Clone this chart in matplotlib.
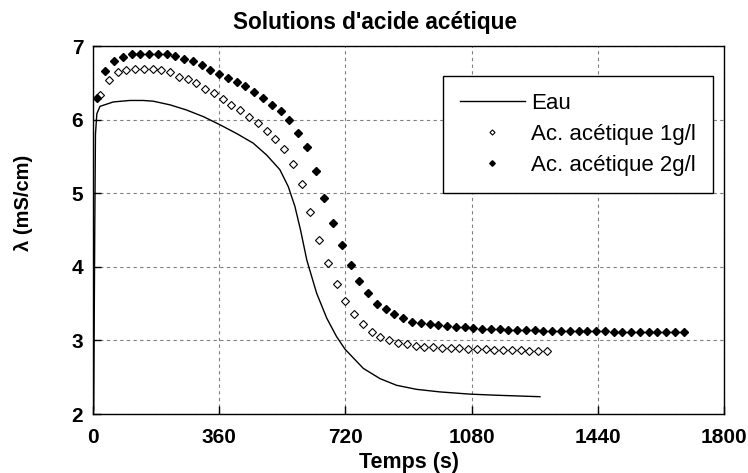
import numpy as np
import matplotlib
matplotlib.use("Agg")
import matplotlib.pyplot as plt

plt.rcParams['font.family'] = ['Liberation Sans', 'DejaVu Sans']

# Eau (trace continue)
t_eau = [2, 5, 7, 11, 20, 58, 105, 143, 172, 220, 267, 315, 362, 410, 457, 495,
         533, 557, 576, 592, 610, 638, 667, 695, 719, 771, 819, 866, 923, 990,
         1075, 1151, 1275]
eau = [2.05, 4.5, 5.8, 6.08, 6.18, 6.24, 6.26, 6.26, 6.25, 6.20, 6.13, 6.04,
       5.93, 5.81, 5.68, 5.52, 5.32, 5.09, 4.82, 4.50, 4.09, 3.64, 3.30, 3.05,
       2.88, 2.62, 2.48, 2.39, 2.335, 2.30, 2.27, 2.255, 2.235]

# Ac. acetique 1g/l (mesures toutes les 25 s)
t_ac1 = np.arange(20, 1300, 25)
ac1 = [6.33, 6.54, 6.64, 6.67, 6.69, 6.69, 6.69, 6.67, 6.64, 6.58, 6.55, 6.50,
       6.42, 6.36, 6.28, 6.20, 6.13, 6.04, 5.96, 5.85, 5.74, 5.60, 5.39, 5.12,
       4.74, 4.36, 4.05, 3.77, 3.54, 3.355, 3.22, 3.12, 3.05, 3.005, 2.97, 2.95,
       2.93, 2.915, 2.91, 2.90, 2.895, 2.89, 2.885, 2.88, 2.88, 2.875, 2.87,
       2.87, 2.865, 2.86, 2.855, 2.855]

# Ac. acetique 2g/l
t_ac2 = np.arange(10, 1700, 25)
ac2 = [6.29, 6.66, 6.79, 6.855, 6.89, 6.89, 6.89, 6.89, 6.89, 6.87, 6.83, 6.79,
       6.74, 6.67, 6.62, 6.56, 6.51, 6.45, 6.375, 6.29, 6.20, 6.12, 5.99, 5.82,
       5.63, 5.30, 4.94, 4.59, 4.29, 4.03, 3.81, 3.64, 3.50, 3.42, 3.355, 3.30,
       3.255, 3.23, 3.22, 3.205, 3.196, 3.187, 3.18, 3.175, 3.16, 3.16, 3.155,
       3.14, 3.14, 3.14, 3.14, 3.13, 3.13, 3.13, 3.13, 3.13, 3.125, 3.125, 3.125,
       3.12, 3.12, 3.12, 3.12, 3.12, 3.115, 3.115, 3.115, 3.115]

xticks = [0, 360, 720, 1080, 1440, 1800]
yticks = [2, 3, 4, 5, 6, 7]

fig = plt.figure(figsize=(7.48, 4.73), dpi=100)
ax = fig.add_axes([93 / 748, 59 / 473, 631 / 748, 368 / 473])

ax.plot(t_eau, eau, color='black', lw=1.0, label='Eau')
ax.plot(t_ac1, ac1, ls='none', marker='D', ms=3.7, mfc='white', mec='black',
        mew=0.8, label='Ac. acétique 1g/l')
ax.plot(t_ac2, ac2, ls='none', marker='D', ms=4.0, mfc='black', mec='black',
        label='Ac. acétique 2g/l')

ax.set_xlim(0, 1800)
ax.set_ylim(2, 7)
ax.set_xticks(xticks)
ax.set_yticks(yticks)
ax.tick_params(direction='in', length=6, width=1, labelsize=15)
ax.tick_params(axis='x', pad=10)
ax.tick_params(axis='y', pad=7)
for lab in ax.get_xticklabels() + ax.get_yticklabels():
    lab.set_fontweight('bold')
ax.grid(True, color='#808080', ls=(0, (3, 3)), lw=0.8)
for s in ax.spines.values():
    s.set_color('black')
    s.set_linewidth(1)

ax.set_title("Solutions d'acide acétique", fontsize=16.3, fontweight='bold',
             pad=12, x=0.447)
ax.set_xlabel('Temps (s)', fontsize=15.5, fontweight='bold', labelpad=4)
ax.set_ylabel('λ (mS/cm)', fontsize=14.5, fontweight='bold')
ax.yaxis.set_label_coords(-0.095, 0.573)

leg = ax.legend(loc='upper right', bbox_to_anchor=(0.9826, 0.918), fontsize=16,
                frameon=True, fancybox=False, edgecolor='black', framealpha=1,
                handlelength=2.93, markerscale=0.7, borderpad=0.75,
                labelspacing=0.45, handletextpad=0.3, borderaxespad=0)
leg.get_frame().set_linewidth(1)

fig.savefig('out.png', dpi=100)
